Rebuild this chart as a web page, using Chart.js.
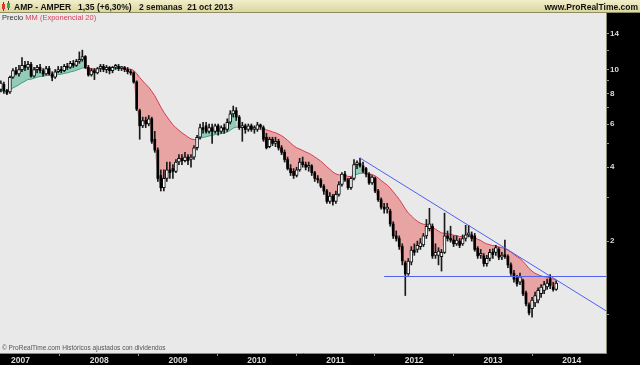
<!DOCTYPE html>
<html>
<head>
<meta charset="utf-8">
<script src="https://cdn.jsdelivr.net/npm/chart.js@4.4.1/dist/chart.umd.min.js"></script>
<style>
  html, body { margin: 0; padding: 0; background: #000; }
  #wrap { width: 640px; height: 365px; }
</style>
</head>
<body>
<div id="wrap"><canvas id="chart" width="640" height="365"></canvas></div>
<script>
// AMPER (AMP), velas de 2 semanas, oct 2006 - 21 oct 2013
const firstBar = Date.UTC(2006, 9, 2);
const barDays = 14;

const opens = [
  8.3, 8.7, 8.2, 8.1, 9.3, 9.9, 9.6, 10.0, 10.4, 10.2,
  10.5, 9.4, 10.0, 10.2, 9.9, 9.6, 10.1, 9.6, 9.3, 9.8,
  10.0, 9.9, 10.3, 10.2, 10.6, 10.4, 10.8, 11.0, 11.3, 10.2,
  9.5, 9.9, 9.7, 10.1, 10.3, 10.0, 10.2, 9.9, 10.2, 10.3,
  10.1, 10.2, 10.0, 9.8, 9.7, 8.9, 6.8, 5.9, 6.2, 6.0,
  6.3, 5.2, 4.7, 3.7, 3.3, 3.6, 3.9, 3.95, 3.85, 4.2,
  4.35, 4.25, 4.4, 4.3, 4.4, 4.8, 5.3, 5.8, 5.9, 5.6,
  5.8, 5.6, 5.9, 5.6, 5.8, 5.7, 6.1, 6.6, 6.8, 6.4,
  5.8, 5.9, 5.7, 5.9, 5.7, 5.7, 5.95, 5.8, 5.3, 4.85,
  5.2, 5.0, 5.1, 4.8, 4.6, 4.3, 3.95, 3.85, 3.7, 3.9,
  4.2, 4.1, 4.0, 4.05, 3.8, 3.6, 3.55, 3.35, 3.2, 2.9,
  3.05, 2.9, 3.1, 3.4, 3.75, 3.55, 3.3, 3.6, 4.1, 4.15,
  4.05, 3.95, 3.75, 3.45, 3.6, 3.2, 2.95, 2.75, 2.7, 2.65,
  2.35, 2.1, 2.05, 1.9, 1.63, 1.47, 1.64, 1.84, 1.85, 1.9,
  1.93, 2.1, 2.25, 2.3, 1.75, 1.75, 1.73, 1.8, 2.1, 2.05,
  2.02, 1.95, 2.0, 1.95, 2.05, 2.12, 2.12, 2.1, 1.87, 1.75,
  1.74, 1.62, 1.7, 1.8, 1.8, 1.85, 1.72, 1.76, 1.73, 1.6,
  1.48, 1.41, 1.36, 1.38, 1.23, 1.1, 1.06, 1.12, 1.15, 1.22,
  1.26, 1.3, 1.4, 1.3, 1.27
];
const highs = [
  9.0, 8.9, 8.3, 9.4, 10.1, 10.2, 10.4, 11.2, 10.8, 10.8,
  10.7, 10.2, 10.4, 10.5, 10.1, 10.3, 10.3, 9.8, 10.0, 10.3,
  10.3, 10.5, 10.6, 10.8, 10.9, 11.0, 11.8, 12.0, 11.4, 10.4,
  10.1, 10.1, 10.2, 10.5, 10.5, 10.4, 10.3, 10.3, 10.5, 10.5,
  10.3, 10.3, 10.2, 10.0, 9.8, 9.0, 6.9, 6.4, 6.4, 6.5,
  6.4, 5.6, 4.8, 3.9, 3.9, 4.2, 4.2, 4.1, 4.3, 4.5,
  4.5, 4.6, 4.5, 4.5, 4.9, 5.4, 6.0, 6.1, 6.1, 6.0,
  6.0, 6.0, 6.0, 5.9, 6.0, 6.3, 6.8, 7.1, 7.0, 6.5,
  6.1, 6.0, 6.0, 6.0, 5.9, 6.1, 6.0, 5.9, 5.5, 5.3,
  5.3, 5.3, 5.2, 4.9, 4.7, 4.4, 4.1, 3.95, 4.0, 4.35,
  4.4, 4.2, 4.2, 4.1, 3.85, 3.7, 3.6, 3.4, 3.25, 3.15,
  3.1, 3.2, 3.5, 3.8, 3.85, 3.6, 3.65, 4.3, 4.25, 4.36,
  4.2, 4.0, 3.8, 3.7, 3.65, 3.25, 3.0, 2.85, 2.85, 2.7,
  2.4, 2.2, 2.1, 1.95, 1.66, 1.7, 1.9, 1.95, 2.0, 2.05,
  2.15, 2.45, 2.72, 2.35, 1.95, 1.88, 1.85, 2.6, 2.2, 2.3,
  2.1, 2.1, 2.05, 2.12, 2.32, 2.32, 2.18, 2.15, 1.9, 1.85,
  1.78, 1.75, 1.85, 1.86, 1.92, 1.88, 1.8, 2.02, 1.76, 1.63,
  1.52, 1.45, 1.48, 1.4, 1.25, 1.12, 1.18, 1.24, 1.29, 1.33,
  1.37, 1.4, 1.46, 1.36, 1.38
];
const lows = [
  8.1, 8.0, 7.9, 8.0, 9.2, 9.5, 9.4, 9.8, 9.9, 10.0,
  9.3, 9.3, 9.7, 9.7, 9.4, 9.5, 9.5, 9.0, 9.2, 9.7,
  9.7, 9.8, 10.0, 10.1, 10.2, 10.3, 10.6, 10.8, 10.1, 9.4,
  9.4, 9.1, 9.6, 9.8, 9.8, 9.7, 9.6, 9.7, 10.0, 9.9,
  9.9, 9.8, 9.6, 9.5, 8.8, 6.8, 5.2, 5.8, 5.8, 5.9,
  5.0, 4.6, 3.5, 3.2, 3.2, 3.5, 3.6, 3.6, 3.8, 4.1,
  4.1, 4.2, 4.1, 4.0, 4.3, 4.7, 5.2, 5.5, 5.5, 5.5,
  5.0, 5.5, 5.4, 5.5, 5.5, 5.6, 6.0, 6.4, 6.2, 5.7,
  5.1, 5.5, 5.6, 5.6, 5.5, 5.6, 5.7, 5.1, 4.75, 4.8,
  4.9, 4.85, 4.7, 4.5, 4.2, 3.9, 3.7, 3.6, 3.65, 3.85,
  4.0, 3.9, 3.85, 3.7, 3.5, 3.45, 3.3, 3.1, 2.85, 2.85,
  2.8, 2.85, 3.05, 3.35, 3.5, 3.25, 3.25, 3.55, 3.95, 4.0,
  3.8, 3.65, 3.4, 3.4, 3.15, 2.9, 2.7, 2.6, 2.6, 2.3,
  2.05, 2.0, 1.85, 1.6, 1.2, 1.45, 1.6, 1.75, 1.8, 1.85,
  1.9, 2.05, 2.2, 1.7, 1.7, 1.6, 1.51, 1.78, 2.0, 1.98,
  1.9, 1.92, 1.88, 1.92, 2.0, 2.08, 2.0, 1.82, 1.7, 1.7,
  1.58, 1.58, 1.66, 1.7, 1.75, 1.68, 1.68, 1.7, 1.56, 1.45,
  1.36, 1.31, 1.33, 1.2, 1.09, 1.0, 0.98, 1.08, 1.12, 1.18,
  1.22, 1.27, 1.28, 1.25, 1.26
];
const closes = [
  8.8, 8.2, 8.0, 9.3, 9.9, 9.6, 10.0, 10.4, 10.2, 10.5,
  9.4, 10.0, 10.2, 9.9, 9.6, 10.1, 9.6, 9.3, 9.8, 10.0,
  9.9, 10.3, 10.2, 10.6, 10.4, 10.8, 11.0, 11.3, 10.2, 9.5,
  9.9, 9.7, 10.1, 10.3, 10.0, 10.2, 9.9, 10.2, 10.3, 10.1,
  10.2, 10.0, 9.8, 9.7, 8.9, 6.9, 5.9, 6.2, 6.0, 6.3,
  5.1, 4.7, 3.6, 3.3, 3.6, 3.9, 3.8, 3.85, 4.2, 4.35,
  4.25, 4.4, 4.25, 4.4, 4.8, 5.3, 5.8, 5.7, 5.6, 5.8,
  5.6, 5.9, 5.6, 5.8, 5.7, 6.1, 6.6, 6.8, 6.4, 5.8,
  5.9, 5.7, 5.9, 5.7, 5.8, 5.95, 5.85, 5.2, 4.8, 5.2,
  5.0, 5.1, 4.8, 4.6, 4.3, 3.95, 3.8, 3.7, 3.9, 4.2,
  4.1, 4.0, 4.05, 3.8, 3.6, 3.55, 3.35, 3.2, 2.9, 3.05,
  2.9, 3.1, 3.4, 3.75, 3.55, 3.3, 3.6, 4.1, 4.15, 4.05,
  3.85, 3.75, 3.45, 3.65, 3.2, 2.95, 2.75, 2.7, 2.75, 2.35,
  2.1, 2.05, 1.9, 1.66, 1.47, 1.66, 1.84, 1.8, 1.92, 1.97,
  2.1, 2.3, 2.35, 1.74, 1.8, 1.82, 1.8, 2.1, 2.05, 2.02,
  1.95, 2.02, 1.92, 2.05, 2.12, 2.15, 2.05, 1.85, 1.74, 1.78,
  1.62, 1.7, 1.8, 1.76, 1.88, 1.72, 1.74, 1.73, 1.6, 1.48,
  1.4, 1.34, 1.43, 1.22, 1.11, 1.02, 1.15, 1.2, 1.26, 1.3,
  1.33, 1.35, 1.32, 1.27, 1.35
];

const emaPeriod = 20;
const emaStart = 8.1;   // nivel de la media al inicio del grafico

const yearTicks = [2007, 2008, 2009, 2010, 2011, 2012, 2013, 2014];
const priceTicks = [1, 2, 3, 4, 5, 6, 7, 8, 9, 10, 12, 14];
const priceLabels = [2, 4, 6, 8, 10, 14];

const trendDates = ['2011-04-25', '2014-06-09'];
const trendValues = [4.36, 1.04];
const supportDates = ['2011-08-15', '2014-06-09'];
const supportValues = [1.435, 1.435];

const xMin = Date.UTC(2006, 8, 28);
const xMax = Date.UTC(2014, 5, 9);

// ---------------------------------------------------------------
const dates = closes.map((c, i) => firstBar + i * barDays * 86400000);

const ema = [];
let prev = emaStart;
const k = 2 / (emaPeriod + 1);
closes.forEach(c => { prev = prev + k * (c - prev); ema.push(prev); });

const upBodies = [], downBodies = [];
dates.forEach((d, i) => {
  const o = opens[i], c = closes[i];
  const pt = { x: d, y: [Math.min(o, c), Math.max(o, c)] };
  if (c >= o) upBodies.push(pt); else downBodies.push(pt);
});

const GREEN_FILL = '#92cbb9';
const RED_FILL = '#e8a3a3';
const GREEN_LINE = '#3f9e86';
const RED_LINE = '#d83a50';
const BLUE_LINE = '#5060f0';

const framePlugin = {
  id: 'frame',
  beforeDraw(chart) {
    const { ctx, chartArea: a, width } = chart;
    ctx.save();
    ctx.fillStyle = '#000';
    ctx.fillRect(0, 0, width, chart.height);
    ctx.fillStyle = '#e9e9e9';
    ctx.fillRect(a.left, a.top, a.right - a.left, a.bottom - a.top);
    const g = ctx.createLinearGradient(0, 0, 0, 13);
    g.addColorStop(0, '#f1eecb');
    g.addColorStop(1, '#d9d59c');
    ctx.fillStyle = g;
    ctx.fillRect(0, 0, width, 13);
    ctx.fillStyle = '#8f8b62';
    ctx.fillRect(0, 12, width, 1);
    ctx.restore();
  },
  afterDraw(chart) {
    const { ctx, width } = chart;
    ctx.save();
    // icono
    ctx.fillStyle = '#444';
    ctx.fillRect(3, 2, 1, 9);
    ctx.fillRect(8, 1, 1, 9);
    ctx.fillStyle = '#e03a2a';
    ctx.fillRect(2, 4, 3, 5);
    ctx.fillStyle = '#2fb03a';
    ctx.fillRect(7, 3, 3, 5);

    ctx.fillStyle = '#111';
    ctx.textBaseline = 'alphabetic';
    ctx.font = 'bold 8.5px Arial, "Liberation Sans", sans-serif';
    ctx.fillText('AMP - AMPER', 14, 10);
    ctx.fillText('1,35 (+6,30%)', 78, 10);
    ctx.fillText('2 semanas  21 oct 2013', 139, 10);
    ctx.textAlign = 'right';
    ctx.fillText('www.ProRealTime.com', width - 2, 10);

    ctx.textAlign = 'left';
    ctx.font = '7.5px Arial, "Liberation Sans", sans-serif';
    ctx.fillStyle = '#333';
    ctx.fillText('Precio', 2, 20);
    const w = ctx.measureText('Precio ').width;
    ctx.fillStyle = '#d8405a';
    ctx.fillText('MM (Exponencial 20)', 2 + w, 20);

    ctx.font = '6.5px Arial, "Liberation Sans", sans-serif';
    ctx.fillStyle = '#555';
    ctx.fillText('\u00a9 ProRealTime.com Hist\u00f3ricos ajustados con dividendos', 2, 350);
    ctx.restore();
  }
};

Chart.defaults.font.family = 'Arial, "Liberation Sans", sans-serif';

new Chart(document.getElementById('chart'), {
  type: 'bar',
  data: {
    datasets: [
      {
        label: 'mechas',
        data: dates.map((d, i) => ({ x: d, y: [lows[i], highs[i]] })),
        backgroundColor: '#1a1a1a',
        barThickness: 1,
        grouped: false,
        order: 1
      },
      {
        label: 'bajistas',
        data: downBodies,
        backgroundColor: '#000',
        barThickness: 2,
        minBarLength: 1,
        grouped: false,
        order: 0
      },
      {
        label: 'alcistas',
        data: upBodies,
        backgroundColor: '#fff',
        borderColor: '#111',
        borderWidth: 1,
        borderSkipped: false,
        barThickness: 3,
        minBarLength: 2,
        grouped: false,
        order: 0
      },
      {
        type: 'line',
        label: 'MM (Exponencial 20)',
        data: dates.map((d, i) => ({ x: d, y: ema[i] })),
        borderWidth: 1,
        borderColor: RED_LINE,
        segment: {
          borderColor: c => closes[c.p1DataIndex] >= ema[c.p1DataIndex] ? GREEN_LINE : RED_LINE
        },
        pointRadius: 0,
        tension: 0,
        order: 2
      },
      {
        type: 'line',
        label: 'Precio',
        data: dates.map((d, i) => ({ x: d, y: closes[i] })),
        borderWidth: 0,
        borderColor: 'transparent',
        pointRadius: 0,
        fill: { target: 3, above: GREEN_FILL, below: RED_FILL },
        order: 3
      },
      {
        type: 'line',
        label: 'tendencia',
        data: trendDates.map((d, i) => ({ x: Date.parse(d), y: trendValues[i] })),
        borderColor: BLUE_LINE,
        borderWidth: 1,
        pointRadius: 0,
        order: -1
      },
      {
        type: 'line',
        label: 'soporte',
        data: supportDates.map((d, i) => ({ x: Date.parse(d), y: supportValues[i] })),
        borderColor: BLUE_LINE,
        borderWidth: 1,
        pointRadius: 0,
        order: -1
      }
    ]
  },
  options: {
    responsive: false,
    devicePixelRatio: 1,
    animation: false,
    layout: { padding: { top: 13, left: 0, right: 0, bottom: 0 } },
    plugins: { legend: { display: false }, tooltip: { enabled: false } },
    scales: {
      x: {
        type: 'linear',
        min: xMin,
        max: xMax,
        offset: false,
        afterFit: s => { s.height = 12; },
        afterBuildTicks: s => { s.ticks = yearTicks.map(y => ({ value: Date.UTC(y, 0, 1) })); },
        grid: { drawOnChartArea: false, color: '#9a9a86', tickLength: 3 },
        border: { color: '#8c8c74' },
        ticks: {
          autoSkip: false,
          maxRotation: 0,
          padding: 0,
          color: '#dcdcdc',
          font: { size: 8.5, weight: 'bold' },
          callback: v => String(new Date(v).getUTCFullYear())
        }
      },
      y: {
        type: 'logarithmic',
        position: 'right',
        min: 0.718,
        max: 17.0,
        afterFit: s => { s.width = 34; },
        afterBuildTicks: s => { s.ticks = priceTicks.map(v => ({ value: v })); },
        grid: { drawOnChartArea: false, color: '#9a9a86', tickLength: 3 },
        border: { color: '#8c8c74' },
        ticks: {
          autoSkip: false,
          padding: 1,
          color: '#dcdcdc',
          font: { size: 8, weight: 'bold' },
          callback: v => priceLabels.includes(v) ? String(v) : ''
        }
      }
    }
  },
  plugins: [framePlugin]
});
</script>
</body>
</html>
